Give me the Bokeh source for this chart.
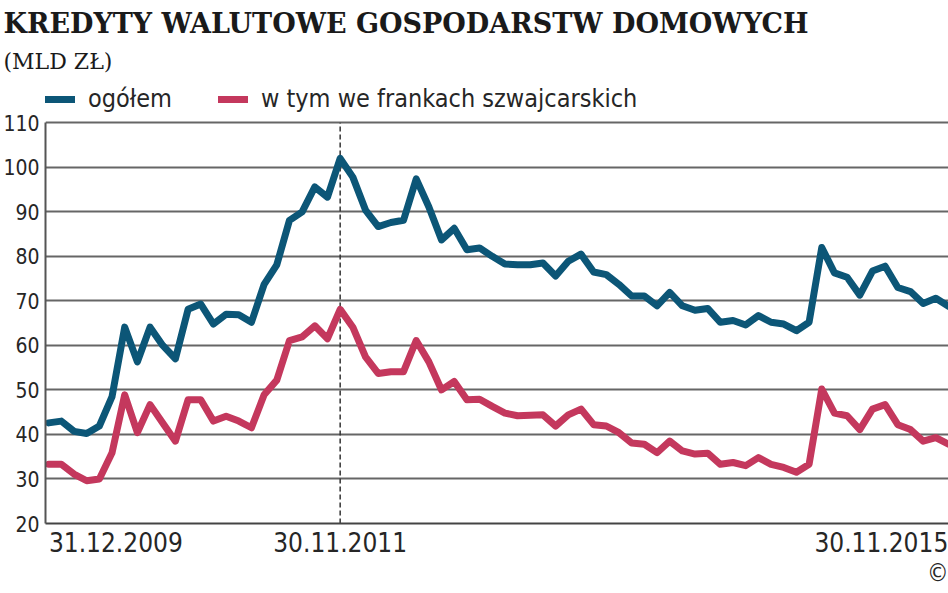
from bokeh.plotting import figure
from bokeh.models import Range1d, Legend, LegendItem, FixedTicker, Title
from bokeh.embed import file_html
from bokeh.resources import INLINE

# ---- data (monthly, 31.12.2009 .. 30.11.2015), mld zł ----
months = list(range(72))
ogolem = [42.6, 43.0, 40.7, 40.2, 41.9, 48.5, 64.1, 56.3, 64.1, 60.0,
          57.0, 68.1, 69.3, 64.8, 67.0, 66.9, 65.2, 73.7, 78.1, 88.1,
          90.0, 95.6, 93.3, 102.0, 97.8, 90.4, 86.7, 87.6, 88.1, 97.4,
          91.1, 83.7, 86.3, 81.5, 81.9, 80.0, 78.3, 78.1, 78.1, 78.5,
          75.6, 78.9, 80.5, 76.5, 75.9, 73.7, 71.1, 71.1, 68.9, 71.9,
          68.9, 67.9, 68.3, 65.2, 65.6, 64.6, 66.7, 65.2, 64.8, 63.3,
          65.2, 82.0, 76.3, 75.3, 71.3, 76.7, 77.8, 73.0, 72.1, 69.4,
          70.6, 68.8]
frank = [33.3, 33.3, 31.1, 29.6, 30.0, 35.9, 48.9, 40.4, 46.7, 42.6,
         38.5, 47.8, 47.8, 43.0, 44.1, 43.0, 41.5, 48.9, 52.2, 61.1,
         61.9, 64.4, 61.5, 68.1, 64.1, 57.4, 53.7, 54.1, 54.1, 61.1,
         56.3, 50.0, 51.9, 47.8, 47.9, 46.3, 44.8, 44.2, 44.3, 44.4,
         41.9, 44.4, 45.7, 42.2, 41.9, 40.4, 38.1, 37.8, 35.9, 38.5,
         36.3, 35.6, 35.8, 33.3, 33.7, 33.0, 34.8, 33.3, 32.6, 31.5,
         33.3, 50.2, 44.8, 44.2, 41.1, 45.7, 46.7, 42.2, 41.1, 38.5,
         39.3, 37.8]
y_ticks = [20, 30, 40, 50, 60, 70, 80, 90, 100, 110]
x_tick_pos = [0, 23, 71]
x_tick_labels = ["31.12.2009", "30.11.2011", "30.11.2015"]
marker_month = 23
series_names = ["ogółem", "w tym we frankach szwajcarskich"]
title_text = "KREDYTY WALUTOWE GOSPODARSTW DOMOWYCH"
unit_text = "(MLD ZŁ)"

BLUE = "#0c5677"
RED = "#c4385d"
SANS = "DejaVu Sans Condensed"
SERIF = "DejaVu Serif"
TXT = "#262626"

# the outer date labels are set flush with the ends of the series (as in the original):
# half a label width, in months
HALF_LABEL = 5.3
x_label_pos = [x_tick_pos[0] + HALF_LABEL, x_tick_pos[1], x_tick_pos[2] - HALF_LABEL]

# the frame reaches above the 110 gridline to hold the legend strip
p = figure(width=948, height=593, output_backend="svg", toolbar_location=None,
           x_range=Range1d(-0.25, 71), y_range=Range1d(20, 120.4),
           min_border_top=75, min_border_bottom=70,
           min_border_left=0, min_border_right=0)
p.outline_line_color = None
p.background_fill_color = "white"
p.border_fill_color = "white"

# y axis
p.yaxis.ticker = FixedTicker(ticks=y_ticks)
p.yaxis.bounds = (20, 110)
p.yaxis.major_label_text_font = SANS
p.yaxis.major_label_text_font_size = "21px"
p.yaxis.major_label_text_color = TXT
p.yaxis.major_label_standoff = 6
p.yaxis.axis_line_color = "#555555"
p.yaxis.axis_line_width = 2
p.yaxis.major_tick_line_color = None
p.yaxis.major_tick_out = 0
p.yaxis.major_tick_in = 0
p.yaxis.minor_tick_line_color = None

# x axis
p.xaxis.ticker = FixedTicker(ticks=x_label_pos)
p.xaxis.major_label_overrides = {pos: lab for pos, lab in zip(x_label_pos, x_tick_labels)}
p.xaxis.major_label_text_font = SANS
p.xaxis.major_label_text_font_size = "26px"
p.xaxis.major_label_text_color = TXT
p.xaxis.major_label_standoff = 8
p.xaxis.axis_line_color = "#444444"
p.xaxis.axis_line_width = 2
p.xaxis.major_tick_line_color = None
p.xaxis.major_tick_out = 0
p.xaxis.major_tick_in = 0
p.xaxis.minor_tick_line_color = None

p.xgrid.visible = False
p.ygrid.ticker = FixedTicker(ticks=y_ticks)
p.ygrid.grid_line_color = "#666666"
p.ygrid.grid_line_width = 2

# dashed marker at 30.11.2011, over the plotted value range only
p.segment(x0=[marker_month], y0=[y_ticks[0]], x1=[marker_month], y1=[y_ticks[-1]],
          line_color="#333333", line_width=1.5, line_dash="5 3")

r1 = p.line(months, ogolem, line_width=7, line_color=BLUE,
            line_join="round", line_cap="round")
r2 = p.line(months, frank, line_width=7, line_color=RED,
            line_join="round", line_cap="round")

legend = Legend(items=[LegendItem(label=series_names[0], renderers=[r1]),
                       LegendItem(label=series_names[1], renderers=[r2])],
                orientation="horizontal", location=(0, 410),
                padding=0, margin=0, spacing=46, glyph_width=30, glyph_height=24,
                label_standoff=13, border_line_color=None,
                background_fill_alpha=0,
                label_text_font=SANS, label_text_font_size="25px",
                label_text_color=TXT)
p.add_layout(legend)

# header: unit (nearest the frame), then title
p.add_layout(Title(text=unit_text, text_font=SERIF, text_font_size="22px",
                   text_font_style="normal", text_color="#1a1a1a",
                   align="left", offset=-42, standoff=5), "above")
p.add_layout(Title(text=title_text, text_font=SERIF, text_font_size="27px",
                   text_font_style="bold", text_color="#1a1a1a",
                   align="left", offset=-42, standoff=11), "above")

p.add_layout(Title(text="©", text_font=SANS, text_font_size="24px",
                   text_font_style="normal", text_color=TXT,
                   align="right", offset=0, standoff=4), "below")

open("out.html", "w").write(file_html(p, INLINE))
